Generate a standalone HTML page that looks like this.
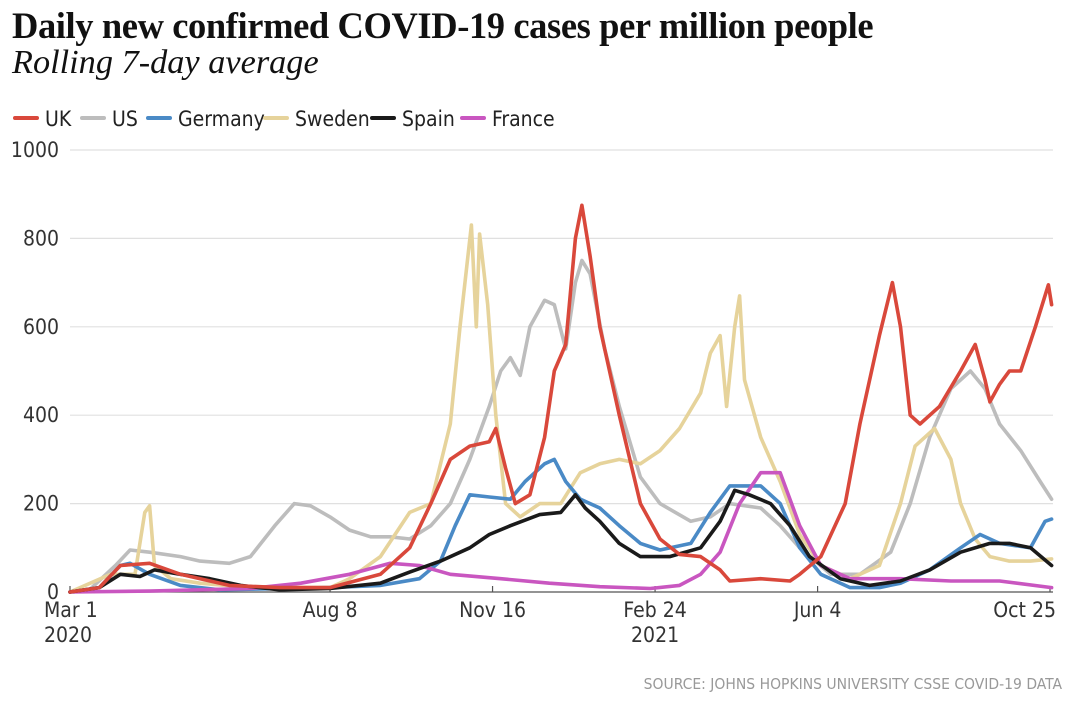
<!DOCTYPE html>
<html><head><meta charset="utf-8"><style>
body{margin:0;background:#fff;width:1080px;height:712px;overflow:hidden;font-family:"Liberation Sans Narrow","DejaVu Sans Condensed","Liberation Sans",sans-serif}
#title{position:absolute;left:12px;top:4px;font-family:"Liberation Serif",serif;font-weight:bold;font-size:36.5px;color:#111;letter-spacing:-0.4px;white-space:nowrap}
#sub{position:absolute;left:12px;top:43px;font-family:"Liberation Serif",serif;font-style:italic;font-size:34.3px;color:#111;white-space:nowrap}
svg{position:absolute;left:0;top:0}
svg text{font-family:"Liberation Sans Narrow","DejaVu Sans Condensed","Liberation Sans",sans-serif}
</style></head><body>
<div id="title">Daily new confirmed COVID-19 cases per million people</div>
<div id="sub">Rolling 7-day average</div>
<svg id="c" width="1080" height="712"></svg>
<script>
const yTicks=[0,200,400,600,800,1000];
const xTickDays=[0,160,260,360,460,603];
const xTickLabels=[["Mar 1","2020"],["Aug 8",""],["Nov 16",""],["Feb 24","2021"],["Jun 4",""],["Oct 25",""]];
const seriesNames=["US","Sweden","Germany","France","Spain","UK"];
const seriesColors=["#bdbdbd","#e6d39b","#4a8ac6","#c956c0","#1a1a1a","#d9483b"];
const ukDays=[0,18,31,49,68,98,129,160,191,209,222,234,246,258,262,268,274,283,292,298,305,311,315,320,326,338,351,363,375,388,400,406,425,443,449,462,477,486,498,506,511,517,523,535,548,557,563,566,572,578,585,594,602,604];
const ukVals=[0,10,60,65,40,15,10,10,40,100,200,300,330,340,370,280,200,220,350,500,560,800,875,760,600,400,200,120,85,80,50,25,30,25,40,80,200,380,580,700,600,400,380,420,500,560,480,430,470,500,500,600,695,650];
const usDays=[0,12,28,37,49,68,80,98,111,126,138,148,160,172,185,197,209,222,234,246,258,265,271,277,283,292,298,305,311,315,320,329,338,351,363,382,394,406,425,437,449,468,486,505,517,529,542,554,563,572,585,597,604];
const usVals=[0,5,60,95,90,80,70,65,80,150,200,195,170,140,125,125,120,150,200,300,420,500,530,490,600,660,650,550,700,750,720,550,420,260,200,160,170,200,190,150,100,40,40,90,200,350,460,500,460,380,320,250,210];
const deDays=[0,18,31,37,49,68,92,160,191,215,228,237,246,258,271,280,292,298,305,314,326,338,351,363,382,394,406,425,437,449,462,480,498,511,529,548,560,572,591,600,604];
const deVals=[0,10,60,65,40,15,5,10,15,30,70,150,220,215,210,250,290,300,250,210,190,150,110,95,110,180,240,240,200,100,40,10,10,20,50,100,130,110,100,160,165];
const seDays=[0,25,40,46,49,52,62,80,111,160,172,191,209,222,234,240,247,250,252,257,262,268,277,289,302,314,326,338,351,363,375,388,394,400,404,409,412,415,425,437,449,462,480,498,511,520,532,542,548,557,566,578,591,604];
const seVals=[0,40,40,180,195,60,30,20,10,10,30,80,180,200,380,600,830,600,810,650,400,200,170,200,200,270,290,300,290,320,370,450,540,580,420,600,670,480,350,250,130,60,30,60,200,330,370,300,200,120,80,70,70,75];
const esDays=[0,18,31,43,52,68,86,105,129,160,191,209,228,246,258,271,289,302,311,317,326,338,351,369,388,400,409,418,431,443,455,474,492,511,529,548,566,578,591,604];
const esVals=[0,10,40,35,50,40,30,15,5,8,20,45,70,100,130,150,175,180,220,190,160,110,80,80,100,160,230,220,200,150,80,30,15,25,50,90,110,110,100,60];
const frDays=[0,49,111,142,172,197,215,234,265,295,326,357,375,388,400,412,425,437,449,462,480,511,542,572,604];
const frVals=[0,2,8,20,40,65,60,40,30,20,12,8,15,40,90,200,270,270,150,60,30,30,25,25,10];
const allDays=[usDays,seDays,deDays,frDays,esDays,ukDays];
const allVals=[usVals,seVals,deVals,frVals,esVals,ukVals];
const NS="http://www.w3.org/2000/svg",svg=document.getElementById('c');
const X=d=>70+d*(980/603), Y=v=>592-v*0.442;
function mk(t,a){const e=document.createElementNS(NS,t);for(const k in a)e.setAttribute(k,a[k]);svg.appendChild(e);return e;}
yTicks.forEach(v=>{
 if(v>0){const g=mk('line',{x1:70,x2:1053,y1:Y(v),y2:Y(v),stroke:'#e0e0e0','stroke-width':1.2});
 
 }
 const t=mk('text',{x:59,y:Y(v)+7,'text-anchor':'end','font-size':21,fill:'#333'});t.textContent=v;
 
 
});
const ax=mk('line',{x1:70,x2:1053,y1:592,y2:592,stroke:'#555','stroke-width':1.2});


xTickDays.forEach((d,i)=>{
 const tk=mk('line',{x1:X(d),x2:X(d),y1:586,y2:592,stroke:'#555','stroke-width':1.2});
 
 
 const anchor=i==0?'start':(i==xTickDays.length-1?'end':'middle');
 const xx=i==0?44:(i==xTickDays.length-1?1056:X(d));
 const t=mk('text',{x:xx,y:617,'text-anchor':anchor,'font-size':21,fill:'#333'});t.textContent=xTickLabels[i][0];
 
 
 if(xTickLabels[i][1]){const t2=mk('text',{x:xx,y:642,'text-anchor':anchor,'font-size':21,fill:'#333'});t2.textContent=xTickLabels[i][1];
 
 }
});
allDays.forEach((ds,i)=>{
 const pts=ds.map((d,j)=>X(d).toFixed(1)+','+Y(allVals[i][j]).toFixed(1)).join(' ');
 const p=mk('polyline',{points:pts,fill:'none',stroke:seriesColors[i],'stroke-width':3.6,'stroke-linejoin':'round','stroke-linecap':'round'});
 
 
});
const legOrder=["UK","US","Germany","Sweden","Spain","France"];
const legX=[15,82,148,265,372,462];
legOrder.forEach((n,i)=>{
 const c=seriesColors[seriesNames.indexOf(n)];
 const l=mk('line',{x1:legX[i],x2:legX[i]+22,y1:118,y2:118,stroke:c,'stroke-width':4,'stroke-linecap':'round'});
 
 
 const t=mk('text',{x:legX[i]+30,y:126,'font-size':21,fill:'#222'});t.textContent=n;
 
 
});
const s=mk('text',{x:1062,y:689,'text-anchor':'end','font-size':15.5,fill:'#999'});s.textContent="SOURCE: JOHNS HOPKINS UNIVERSITY CSSE COVID-19 DATA";


</script>
</body></html>
